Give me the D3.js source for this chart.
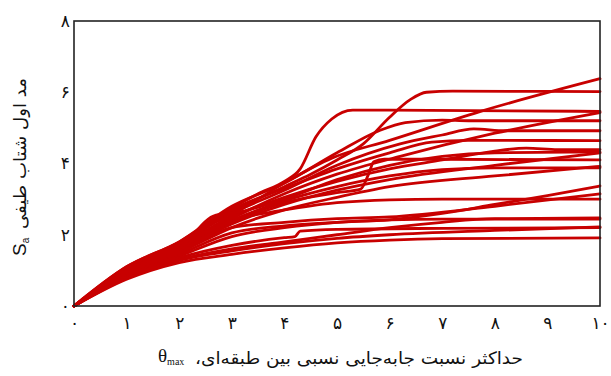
<!DOCTYPE html>
<html><head><meta charset="utf-8">
<script src="https://cdn.jsdelivr.net/npm/d3@7"></script>
<style>
html,body{margin:0;padding:0;background:#fff;}
svg{display:block;}
</style></head>
<body>
<svg id="chart" width="611" height="376"></svg>
<script>
// Tick values and Persian tick labels
const xTicks = [0,1,2,3,4,5,6,7,8,9,10];
const xTickLabels = ['۰','۱','۲','۳','۴','۵','۶','۷','۸','۹','۱۰'];
const yTicks = [0,2,4,6,8];
const yTickLabels = ['۰','۲','۴','۶','۸'];

// IDA curves: [max interstory drift ratio θmax, first-mode spectral acceleration Sa]
const gmA = [[0,0],[1,1.1],[2,1.8],[3,2.75],[3.5,3.15],[4,3.5],[4.3,3.85],[4.6,4.75],[4.9,5.25],[5.3,5.5],[6,5.5],[10,5.46]];
const gmB = [[0,0],[1,1.05],[2,1.75],[3,2.65],[4,3.35],[4.5,3.7],[5,4.1],[5.5,4.55],[6,5.3],[6.4,5.8],[6.7,6.0],[7.2,6.03],[10,6.02]];
const gmC = [[0,0],[1,1.0],[2,1.7],[3,2.55],[4,3.45],[4.9,4.15],[6,4.65],[7.7,5.45],[10,6.38]];
const gmD = [[0,0],[1,0.95],[2,1.6],[3,2.45],[4,3.15],[5,3.7],[6.2,4.2],[8,4.85],[10,5.43]];
const gmE = [[0,0],[1,1.1],[2,1.8],[3,2.8],[4,3.45],[5,4.3],[5.8,4.92],[6.3,5.15],[7,5.22],[7.5,5.2],[10,5.2]];
const gmF = [[0,0],[1,1.05],[2,1.75],[3,2.6],[4,3.25],[5,3.95],[6.2,4.55],[7,4.8],[7.6,4.97],[8.2,4.92],[10,4.92]];
const gmG = [[0,0],[1,1.0],[2,1.7],[3,2.7],[4,3.3],[5,3.85],[6,4.3],[6.8,4.6],[7.5,4.65],[10,4.64]];
const gmH = [[0,0],[1,0.95],[2,1.6],[3,2.35],[4,2.9],[5,3.18],[5.45,3.28],[5.6,3.7],[5.7,4.05],[5.9,4.12],[7,4.12],[10,4.1]];
const gmI = [[0,0],[1,0.95],[2,1.65],[3,2.5],[4,3.05],[5,3.5],[6,3.85],[7,4.1],[8,4.35],[8.6,4.43],[9.2,4.39],[10,4.39]];
const gmJ = [[0,0],[1,0.9],[2,1.55],[3,2.3],[4,2.85],[5,3.25],[6,3.55],[8,3.95],[10,4.3]];
const gmK = [[0,0],[1,1.0],[2,1.7],[3,2.4],[4,2.95],[5,3.35],[6,3.65],[7,3.83],[8,3.88],[10,3.88]];
const gmL = [[0,0],[1,0.9],[2,1.5],[3,2.2],[4,2.7],[5,3.05],[6,3.35],[8,3.65],[10,3.92]];
const gmM = [[0,0],[1,0.85],[2,1.45],[3,2.05],[4,2.25],[5,2.35],[6,2.42],[7,2.6],[8,2.85],[9,3.1],[10,3.37]];
const gmN = [[0,0],[1,0.9],[2,1.5],[3,2.2],[4,2.35],[5,2.45],[6,2.5],[8,2.8],[10,3.15]];
const gmO = [[0,0],[1,1.0],[2,1.65],[2.7,2.4],[3,2.45],[4,2.7],[5,2.9],[6,2.98],[7,3.0],[10,3.0]];
const gmP = [[0,0],[1,0.85],[2,1.4],[3,1.95],[4,2.2],[5,2.35],[6,2.42],[7,2.44],[10,2.44]];
const gmQ = [[0,0],[1,0.8],[2,1.35],[3,1.7],[4,1.92],[4.2,1.95],[4.3,2.1],[5,2.15],[7,2.18],[10,2.2]];
const gmR = [[0,0],[1,0.75],[2,1.22],[3,1.45],[4,1.63],[5,1.77],[6,1.85],[7,1.89],[10,1.91]];
const gmS = [[0,0],[1,0.95],[2,1.6],[2.7,2.55],[3,2.6],[4,3.0],[5,3.55],[6,3.95],[7,4.2],[8,4.3],[10,4.32]];
const gmT = [[0,0],[1,0.8],[2,1.3],[3,1.6],[4,1.8],[5,2.0],[6,2.2],[7,2.35],[8,2.45],[10,2.47]];
const gmU = [[0,0],[1,0.78],[2,1.28],[3,1.55],[4,1.75],[5,1.9],[6,2.0],[8,2.12],[10,2.22]];
const records = [gmA,gmB,gmC,gmD,gmE,gmF,gmG,gmH,gmI,gmJ,gmK,gmL,gmM,gmN,gmO,gmP,gmQ,gmR,gmS,gmT,gmU];

const xTitle = 'حداکثر نسبت جابه‌جایی نسبی بین طبقه‌ای،';
const yTitle = 'مد اول شتاب طیفی';

const svg = d3.select('#chart');
const L = 74, R = 600, T = 21, B = 306;
const x = d3.scaleLinear().domain([0,10]).range([L,R]);
const y = d3.scaleLinear().domain([0,8]).range([B,T]);
const FONT = 'DejaVu Sans';
const RLM = '\u200F';

const line = d3.line().x(d=>x(d[0])).y(d=>y(d[1])).curve(d3.curveMonotoneX);
svg.append('g').selectAll('path').data(records).join('path')
  .attr('d', line).attr('fill','none').attr('stroke','#c80000')
  .attr('stroke-width',2.8).attr('stroke-linejoin','round').attr('stroke-linecap','round');

svg.append('rect').attr('x',L).attr('y',T).attr('width',R-L).attr('height',B-T)
  .attr('fill','none').attr('stroke','#222').attr('stroke-width',1.6);

const xAxis = d3.axisBottom(x).tickValues(xTicks).tickSize(0).tickPadding(0)
  .tickFormat((d,i)=>xTickLabels[i]);
const gx = svg.append('g').attr('transform',`translate(0,${B+11})`).call(xAxis);
gx.select('.domain').remove();
gx.selectAll('text').attr('font-family',FONT).attr('font-size',17).attr('fill','#111');

const yAxis = d3.axisLeft(y).tickValues(yTicks).tickSize(0).tickPadding(0)
  .tickFormat((d,i)=>yTickLabels[i]);
const gy = svg.append('g').attr('transform',`translate(${L-4},0)`).call(yAxis);
gy.select('.domain').remove();
gy.selectAll('text').attr('font-family',FONT).attr('font-size',17).attr('fill','#111');

// x title
svg.append('text').attr('x',523).attr('y',364).attr('text-anchor','end')
  .attr('font-family',FONT).attr('font-size',17).attr('fill','#111')
  .attr('textLength',328).attr('lengthAdjust','spacingAndGlyphs')
  .text(xTitle + RLM);
const th = svg.append('text').attr('x',158).attr('y',362).attr('text-anchor','start')
  .attr('font-family','Liberation Serif').attr('font-size',19).attr('fill','#111');
th.append('tspan').text('θ');
th.append('tspan').attr('font-size',10).attr('dy',3).text('max');

// y title
svg.append('text').attr('transform','translate(26,229) rotate(-90)')
  .attr('text-anchor','start').attr('font-family',FONT).attr('font-size',17).attr('fill','#111')
  .attr('textLength',151).attr('lengthAdjust','spacingAndGlyphs')
  .text(yTitle);
const sa = svg.append('text').attr('transform','translate(26,256) rotate(-90)')
  .attr('text-anchor','start').attr('font-family','Liberation Sans').attr('font-size',19).attr('fill','#111');
sa.append('tspan').text('S');
sa.append('tspan').attr('font-size',10).attr('dy',3).text('a');
</script>
</body></html>
